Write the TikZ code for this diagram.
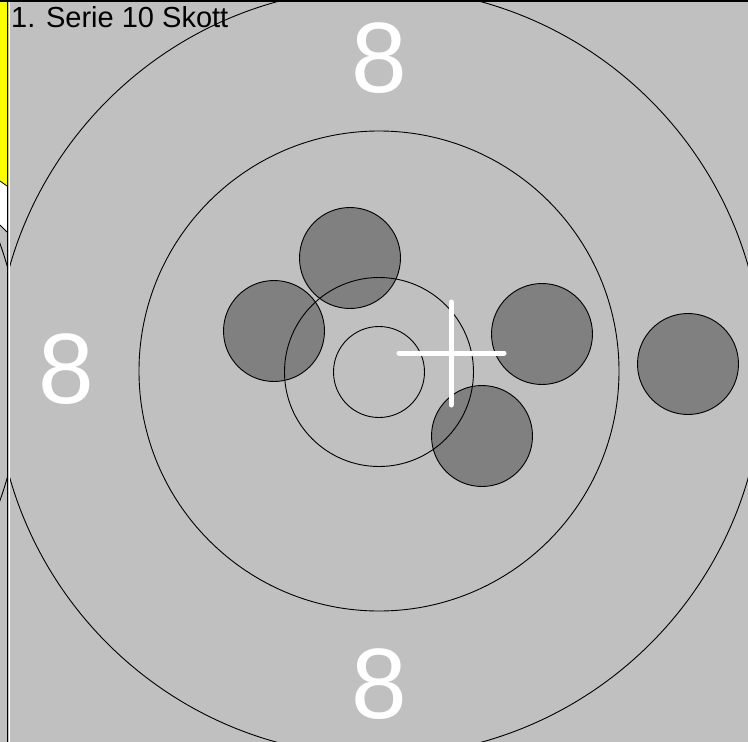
\documentclass[tikz,border=0pt]{standalone}
\usepackage{fontspec}
\setmainfont{Liberation Sans}
\definecolor{panelgray}{HTML}{C0C0C0}
\definecolor{shotgray}{HTML}{808080}
\definecolor{tabyellow}{HTML}{FFFF00}
\tikzset{
  ring/.style={draw=black, line width=0.9pt},
  shot/.style={circle, draw=black, line width=0.9pt, fill=shotgray, minimum size=101pt, inner sep=0pt},
  ringnum/.style={text=white, inner sep=0pt, font=\fontsize{100}{100}\selectfont},
}
\begin{document}
\begin{tikzpicture}[x=1pt, y=-1pt]
            \useasboundingbox (0,0) rectangle (748,742);
            \fill[panelgray] (0,0) rectangle (748,742);

            % left strip: neighbour tab
            \begin{scope}
                \clip (0,2) rectangle (7,742);
                \fill[tabyellow] (0,2)--(7,2)--(7,186)--(0,181)--cycle;
                \fill[white] (0,181)--(7,186)--(7,232)--(0,225)--cycle;
                \draw[line width=0.8pt] (0,181)--(7,186);
                \draw[line width=0.8pt] (0,225)--(7,232);
                \draw[ring] (-362,372) circle (384);
            \end{scope}

            % main target
            \begin{scope}
                \clip (10,2) rectangle (748,742);
                \node[shot] (shot1) at (350,258) {};
                \node[shot] (shot2) at (274,331) {};
                \node[shot] (shot3) at (542,334) {};
                \node[shot] (shot4) at (688,364) {};
                \node[shot] (shot5) at (482,436) {};

                \draw[ring] (379,372) circle (45.5);
                \draw[ring] (379,372) circle (94.5);
                \draw[ring] (379,371) circle (240);
                \draw[ring] (379,372) circle (384);

                \draw[white, line width=5pt, line cap=round] (451,302)--(451,405);
                \draw[white, line width=5pt, line cap=round] (399,353)--(504,353);

                \node[ringnum] (eighttop) at (379,58) {8};
                \node[ringnum] (eightleft) at (66,369) {8};
                \node[ringnum] (eightbottom) at (379,684) {8};

                \node[anchor=base west, inner sep=0pt, font=\fontsize{29}{29}\selectfont] (title) at (11,27) {1. Serie 10 Skott};
            \end{scope}

            % frame lines
            \draw[line width=1.5pt] (7.5,0)--(7.5,742);
            \draw[white, line width=1pt] (9,2)--(9,742);
            \draw[line width=1.5pt] (0,1)--(748,1);
        \end{tikzpicture}
\end{document}
